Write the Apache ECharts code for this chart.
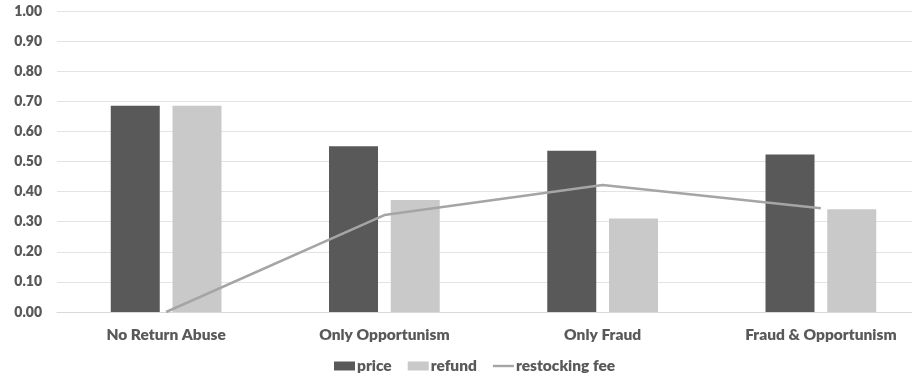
<!DOCTYPE html>
<html>
<head>
<meta charset="utf-8">
<script src="https://cdn.jsdelivr.net/npm/echarts@6/dist/echarts.min.js"></script>
<style>
  html, body { margin: 0; padding: 0; background: #fff; }
  #chart { width: 912px; height: 377px; }
</style>
</head>
<body>
<div id="chart"></div>
<script>
// categories and values
var categories = ['No Return Abuse', 'Only Opportunism', 'Only Fraud', 'Fraud & Opportunism'];
var price = [0.685, 0.551, 0.536, 0.523];
var refund = [0.685, 0.372, 0.311, 0.341];
var restockingFee = [0, 0.322, 0.422, 0.345];

var labelFont = 'Lato, "Liberation Sans", sans-serif';

var myChart = echarts.init(document.getElementById('chart'));
myChart.setOption({
    animation: false,
    grid: {
        left: 57,
        width: 873,   // plot runs past the right edge, the source picture is cropped there
        top: 11,
        bottom: 65,
        outerBoundsMode: 'none'
    },
    legend: {
        left: 329,
        top: 353,
        itemWidth: 21,
        itemHeight: 9,
        itemGap: 16,
        textStyle: {
            fontFamily: labelFont,
            fontWeight: 800,
            fontSize: 15.5,
            color: '#595959',
            padding: [0, 0, 0, -3]
        },
        data: [
            { name: 'price', icon: 'rect' },
            { name: 'refund', icon: 'rect' },
            { name: 'restocking fee', icon: 'path://M0,0 H21 V2.4 H0 Z' }
        ]
    },
    xAxis: {
        type: 'category',
        data: categories,
        axisLine: { lineStyle: { color: '#d9d9d9', width: 1 } },
        axisTick: { show: false },
        axisLabel: {
            margin: 15,
            fontFamily: labelFont,
            fontWeight: 800,
            fontSize: 15.5,
            color: '#595959'
        }
    },
    yAxis: {
        type: 'value',
        min: 0,
        max: 1,
        interval: 0.1,
        axisLine: { show: false },
        axisTick: { show: false },
        splitLine: { lineStyle: { color: '#e3e3e3', width: 1 } },
        axisLabel: {
            margin: 15,
            fontFamily: labelFont,
            fontWeight: 800,
            fontSize: 14,
            color: '#595959',
            formatter: function (v) { return v.toFixed(2); }
        }
    },
    series: [
        {
            name: 'price',
            type: 'bar',
            barWidth: 49,
            barGap: '26%',
            itemStyle: { color: '#595959' },
            data: price
        },
        {
            name: 'refund',
            type: 'bar',
            barWidth: 49,
            itemStyle: { color: '#c9c9c9' },
            data: refund
        },
        {
            name: 'restocking fee',
            type: 'line',
            symbol: 'none',
            lineStyle: { color: '#a5a5a5', width: 2.5 },
            itemStyle: { color: '#a5a5a5' },
            data: restockingFee
        }
    ]
});
</script>
</body>
</html>
